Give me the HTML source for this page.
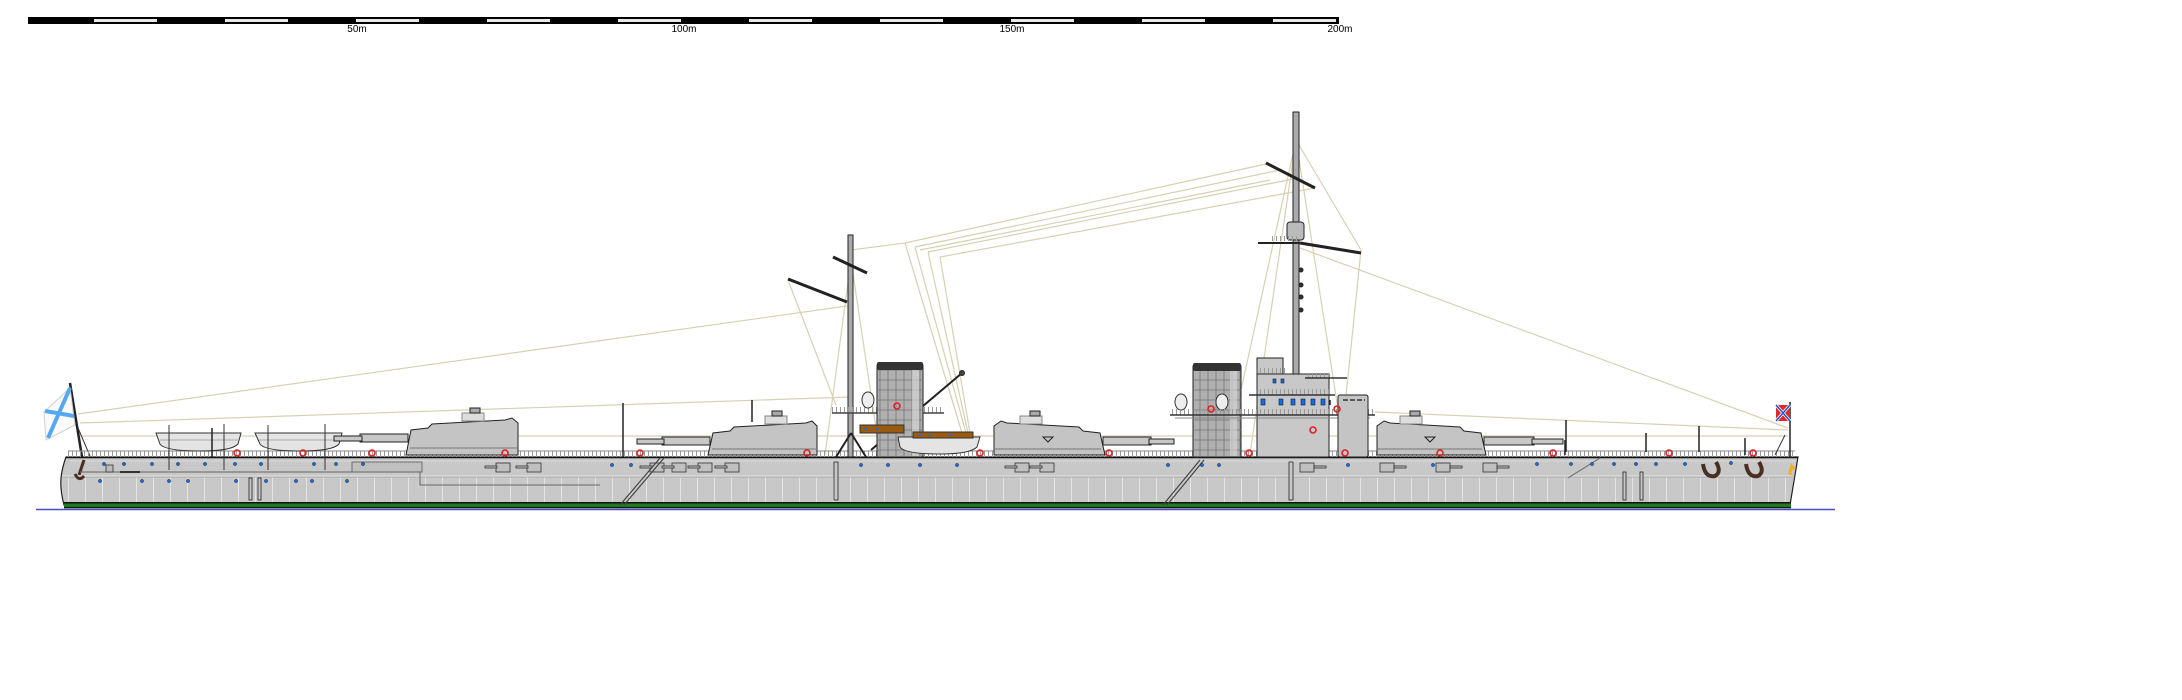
<!DOCTYPE html>
<html><head><meta charset="utf-8"><style>html,body{margin:0;padding:0;background:#fff;}svg{display:block;}</style></head>
<body>
<svg width="2182" height="700" viewBox="0 0 2182 700" xmlns="http://www.w3.org/2000/svg" font-family="Liberation Sans, sans-serif">
<defs>
<pattern id="rail" x="0" y="0" width="4" height="7" patternUnits="userSpaceOnUse"><rect x="0" y="0" width="1" height="7" fill="#9a9a9a"/></pattern>
<pattern id="panel" x="0" y="0" width="17" height="30" patternUnits="userSpaceOnUse"><rect x="0" y="0" width="1" height="30" fill="#e4e4e4"/></pattern>
<pattern id="fgrid" x="0" y="0" width="8" height="10" patternUnits="userSpaceOnUse"><rect width="8" height="10" fill="none" stroke="#777" stroke-width="0.8"/></pattern>
</defs>

<!-- scale bar -->
<rect x="28" y="17" width="1311" height="7" fill="#000"/>
<g fill="#e8e8e8">
<rect x="94" y="19" width="63" height="3"/><rect x="225" y="19" width="63" height="3"/><rect x="356" y="19" width="63" height="3"/><rect x="487" y="19" width="63" height="3"/><rect x="618" y="19" width="63" height="3"/><rect x="749" y="19" width="63" height="3"/><rect x="880" y="19" width="63" height="3"/><rect x="1011" y="19" width="63" height="3"/><rect x="1142" y="19" width="63" height="3"/><rect x="1273" y="19" width="63" height="3"/>
</g>
<g font-size="10" fill="#000" text-anchor="middle">
<text x="357" y="32">50m</text><text x="684" y="32">100m</text><text x="1012" y="32">150m</text><text x="1340" y="32">200m</text>
</g>

<!-- rigging -->
<g stroke="#d8d0b4" stroke-width="1.2" fill="none">
<line x1="78" y1="414" x2="847" y2="306"/>
<line x1="80" y1="423" x2="850" y2="397"/>
<line x1="80" y1="436" x2="1788" y2="436"/>
<line x1="1375" y1="412" x2="1788" y2="430"/>
<line x1="1300" y1="248" x2="1788" y2="428"/>
<line x1="1266" y1="164" x2="905" y2="243"/>
<line x1="1280" y1="170" x2="915" y2="247"/>
<line x1="1298" y1="178" x2="928" y2="252"/>
<line x1="1315" y1="188" x2="940" y2="257"/>
<line x1="1270" y1="180" x2="920" y2="250"/>
<line x1="905" y1="243" x2="962" y2="433"/>
<line x1="915" y1="247" x2="966" y2="433"/>
<line x1="928" y1="252" x2="968" y2="433"/>
<line x1="940" y1="257" x2="970" y2="433"/>
<line x1="851" y1="250" x2="905" y2="243"/>
<line x1="788" y1="280" x2="836" y2="405"/>
<line x1="851" y1="260" x2="825" y2="455"/>
<line x1="851" y1="260" x2="880" y2="455"/>
<line x1="1296" y1="140" x2="1250" y2="454"/>
<line x1="1296" y1="140" x2="1345" y2="454"/>
<line x1="1296" y1="140" x2="1361" y2="250"/>
<line x1="1361" y1="250" x2="1340" y2="454"/>
<line x1="1296" y1="140" x2="1230" y2="440"/>
</g>

<!-- waterline -->
<line x1="36" y1="509.5" x2="1835" y2="509.5" stroke="#4a4ac8" stroke-width="1.5"/>

<!-- hull -->
<path d="M66,457 L1798,457 L1790,505 L64,505 Q60,490 61,478 Q62,468 66,457 Z" fill="#c8c8c8" stroke="#222" stroke-width="1.2"/>
<rect x="64" y="477" width="1726" height="26" fill="url(#panel)"/>
<line x1="62" y1="477" x2="1793" y2="477" stroke="#a9a9a9" stroke-width="1"/>
<line x1="62" y1="476" x2="1793" y2="476" stroke="#e6e6e6" stroke-width="1"/>
<rect x="64" y="502" width="1727" height="1.5" fill="#111"/>
<rect x="64" y="503.5" width="1727" height="3.5" fill="#1f7a1f"/>
<rect x="64" y="507" width="1727" height="1.3" fill="#111"/>
<!-- deck line -->
<line x1="66" y1="457.5" x2="1798" y2="457.5" stroke="#111" stroke-width="1.5"/>
<line x1="70" y1="461" x2="1796" y2="461" stroke="#dadada" stroke-width="1"/>

<!-- stern flag -->
<line x1="70" y1="383" x2="82" y2="457" stroke="#222" stroke-width="2.5"/>
<polygon points="70,388 44,412 46,440 75,425" fill="#fafafa" stroke="#d0d0d0" stroke-width="1"/>
<line x1="70" y1="388" x2="48" y2="438" stroke="#55a8f0" stroke-width="4"/>
<line x1="45" y1="411" x2="74" y2="416" stroke="#55a8f0" stroke-width="4"/>
<line x1="78" y1="428" x2="90" y2="456" stroke="#333" stroke-width="1"/>
<!-- stern anchor -->
<path d="M84,460 L79,475 M75,474 Q79,482 84,476" stroke="#4a2e22" stroke-width="3" fill="none"/>

<!-- railing -->
<rect x="68" y="451" width="1727" height="6" fill="url(#rail)"/>
<line x1="68" y1="451" x2="1795" y2="451" stroke="#888" stroke-width="1"/>

<!-- stern boats -->
<g stroke="#333" stroke-width="1">
<path d="M156,433 L241,433 L238,444 Q232,451 200,451 Q165,451 160,444 Z" fill="#e4e4e4"/>
<path d="M255,433 L342,433 L339,444 Q333,451 300,451 Q265,451 260,444 Z" fill="#e4e4e4"/>
<line x1="160" y1="440" x2="238" y2="440" stroke="#aaa"/><line x1="259" y1="440" x2="339" y2="440" stroke="#aaa"/>
<line x1="169" y1="425" x2="169" y2="470"/><line x1="224" y1="424" x2="224" y2="470"/>
<line x1="268" y1="425" x2="268" y2="470"/><line x1="325" y1="424" x2="325" y2="470"/>
</g>

<!-- stern deckhouse shapes -->
<rect x="352" y="462" width="70" height="10" fill="#c0c0c0" stroke="#555" stroke-width="0.8"/>
<path d="M80,472 L420,472 L420,485 L600,485" stroke="#666" stroke-width="1" fill="none"/>
<rect x="106" y="465" width="7" height="7" fill="#bbb" stroke="#333" stroke-width="0.8"/>
<rect x="120" y="471" width="20" height="2" fill="#333"/>

<!-- turret 1 (left facing) -->
<g stroke="#222" stroke-width="1">
<rect x="360" y="434" width="48" height="8" fill="#c8c8c8"/><rect x="334" y="436" width="28" height="5" fill="#c8c8c8"/>
<polygon points="406,455 411,430 428,428 432,424 505,420 512,418 518,423 518,455" fill="#c4c4c4"/>
<line x1="410" y1="448" x2="518" y2="448" stroke="#777"/>
<rect x="462" y="413" width="22" height="8" fill="#ddd" stroke="#888"/>
<rect x="470" y="408" width="10" height="5" fill="#aaa"/>
</g>
<!-- turret 2 -->
<g stroke="#222" stroke-width="1">
<rect x="662" y="437" width="48" height="8" fill="#c8c8c8"/><rect x="637" y="439" width="27" height="5" fill="#c8c8c8"/>
<polygon points="708,455 713,433 730,431 734,427 806,423 812,421 817,426 817,455" fill="#c4c4c4"/>
<line x1="712" y1="449" x2="817" y2="449" stroke="#777"/>
<rect x="765" y="416" width="22" height="8" fill="#ddd" stroke="#888"/>
<rect x="772" y="411" width="10" height="5" fill="#aaa"/>
</g>
<!-- turret 3 (right facing) -->
<g stroke="#222" stroke-width="1">
<rect x="1103" y="437" width="48" height="8" fill="#c8c8c8"/><rect x="1149" y="439" width="25" height="5" fill="#c8c8c8"/>
<polygon points="1105,455 1100,433 1083,431 1079,427 1007,423 1001,421 994,426 994,455" fill="#c4c4c4"/>
<line x1="994" y1="449" x2="1101" y2="449" stroke="#777"/>
<rect x="1020" y="416" width="22" height="8" fill="#ddd" stroke="#888"/>
<rect x="1030" y="411" width="10" height="5" fill="#aaa"/>
<path d="M1043,437 L1053,437 L1048,442 Z" fill="none"/>
</g>
<!-- turret 4 -->
<g stroke="#222" stroke-width="1">
<rect x="1484" y="437" width="50" height="8" fill="#c8c8c8"/><rect x="1532" y="439" width="31" height="5" fill="#c8c8c8"/>
<polygon points="1486,455 1481,433 1464,431 1460,427 1390,423 1384,421 1377,426 1377,455" fill="#c4c4c4"/>
<line x1="1377" y1="449" x2="1482" y2="449" stroke="#777"/>
<rect x="1400" y="416" width="22" height="8" fill="#ddd" stroke="#888"/>
<rect x="1410" y="411" width="10" height="5" fill="#aaa"/>
<path d="M1425,437 L1435,437 L1430,442 Z" fill="none"/>
</g>

<!-- mast 1 -->
<g stroke="#222">
<rect x="848" y="235" width="5" height="222" fill="#aaa" stroke-width="1"/>
<line x1="788" y1="279" x2="847" y2="302" stroke-width="3"/>
<line x1="833" y1="257" x2="867" y2="273" stroke-width="3"/>
<line x1="851" y1="433" x2="836" y2="457" stroke-width="2"/>
<line x1="851" y1="433" x2="866" y2="457" stroke-width="2"/>
<line x1="871" y1="450" x2="962" y2="373" stroke-width="2"/>
<circle cx="962" cy="373" r="2.5" fill="#444"/>
</g>
<!-- mast 1 platform -->
<rect x="832" y="407" width="112" height="6" fill="url(#rail)"/>
<line x1="832" y1="413" x2="944" y2="413" stroke="#444" stroke-width="1.5"/>
<!-- funnel 1 -->
<rect x="877" y="365" width="46" height="92" fill="#b0b0b0" stroke="#222"/>
<rect x="877" y="365" width="46" height="92" fill="url(#fgrid)"/>
<rect x="912" y="366" width="7" height="90" fill="#d4d4d4" opacity="0.7"/>
<rect x="877" y="362" width="46" height="8" fill="#333" rx="2"/>
<ellipse cx="868" cy="400" rx="6" ry="8" fill="#eee" stroke="#333"/>
<!-- amidships boats -->
<rect x="860" y="425" width="44" height="8" fill="#9a5a10" stroke="#333"/>
<path d="M898,437 L980,437 L977,447 Q970,454 940,454 Q905,454 900,447 Z" fill="#e4e4e4" stroke="#333"/>
<rect x="913" y="432" width="60" height="6" fill="#9a5a10" stroke="#333"/>
<g fill="#1a6ae0"><circle cx="866" cy="429" r="1.3"/><circle cx="877" cy="429" r="1.3"/><circle cx="920" cy="435" r="1.3"/><circle cx="930" cy="435" r="1.3"/><circle cx="950" cy="435" r="1.3"/></g>

<!-- mast 2 -->
<g stroke="#222">
<rect x="1293" y="112" width="6" height="345" fill="#aaa" stroke-width="1"/>
<line x1="1266" y1="163" x2="1315" y2="188" stroke-width="3"/>
<line x1="1258" y1="243" x2="1300" y2="243" stroke-width="2"/>
<line x1="1300" y1="243" x2="1361" y2="253" stroke-width="3"/>
<rect x="1287" y="222" width="17" height="18" fill="#bbb" rx="3"/>
<rect x="1272" y="236" width="27" height="5" fill="url(#rail)" stroke="none"/>
<circle cx="1301" cy="270" r="2" fill="#333"/><circle cx="1301" cy="285" r="2" fill="#333"/><circle cx="1301" cy="297" r="2" fill="#333"/><circle cx="1301" cy="310" r="2" fill="#333"/>
</g>
<!-- funnel 2 -->
<rect x="1193" y="366" width="48" height="91" fill="#b0b0b0" stroke="#222"/>
<rect x="1193" y="366" width="48" height="91" fill="url(#fgrid)"/>
<rect x="1230" y="367" width="7" height="89" fill="#d4d4d4" opacity="0.7"/>
<rect x="1193" y="363" width="48" height="8" fill="#333" rx="2"/>
<ellipse cx="1181" cy="402" rx="6" ry="8" fill="#eee" stroke="#333"/>
<ellipse cx="1222" cy="402" rx="6" ry="8" fill="#eee" stroke="#333"/>
<!-- bridge -->
<rect x="1257" y="374" width="72" height="83" fill="#c8c8c8" stroke="#222"/>
<rect x="1255" y="389" width="76" height="6" fill="url(#rail)"/>
<line x1="1249" y1="395" x2="1335" y2="395" stroke="#333" stroke-width="1.5"/>
<rect x="1257" y="358" width="26" height="16" fill="#c8c8c8" stroke="#222"/>
<rect x="1255" y="368" width="30" height="5" fill="url(#rail)"/>
<rect x="1305" y="374" width="27" height="4" fill="url(#rail)"/>
<line x1="1305" y1="378" x2="1347" y2="378" stroke="#333" stroke-width="1.5"/>
<g fill="#1a6ae0" stroke="#123" stroke-width="0.6">
<rect x="1261" y="399" width="4" height="6"/><rect x="1279" y="399" width="4" height="6"/><rect x="1291" y="399" width="4" height="6"/><rect x="1301" y="399" width="4" height="6"/><rect x="1311" y="399" width="4" height="6"/><rect x="1321" y="399" width="4" height="6"/>
<rect x="1273" y="379" width="3" height="4"/><rect x="1281" y="379" width="3" height="4"/>
</g>
<!-- platform 2 -->
<rect x="1170" y="409" width="205" height="6" fill="url(#rail)"/>
<line x1="1170" y1="415" x2="1375" y2="415" stroke="#333" stroke-width="1.5"/>
<line x1="1175" y1="418" x2="1370" y2="418" stroke="#888" stroke-width="1"/>
<!-- director tower -->
<rect x="1338" y="395" width="30" height="62" fill="#c4c4c4" stroke="#222" rx="2"/>
<line x1="1343" y1="400" x2="1365" y2="400" stroke="#333" stroke-width="1.5" stroke-dasharray="5,2"/>

<!-- casemate guns -->
<g fill="#c0c0c0" stroke="#333" stroke-width="0.8">
<rect x="496" y="463" width="14" height="9"/><rect x="485" y="466" width="12" height="2"/>
<rect x="527" y="463" width="14" height="9"/><rect x="516" y="466" width="12" height="2"/>
<rect x="650" y="463" width="14" height="9"/><rect x="640" y="466" width="12" height="2"/>
<rect x="672" y="463" width="14" height="9"/><rect x="662" y="466" width="12" height="2"/>
<rect x="698" y="463" width="14" height="9"/><rect x="688" y="466" width="12" height="2"/>
<rect x="725" y="463" width="14" height="9"/><rect x="715" y="466" width="12" height="2"/>
<rect x="1015" y="463" width="14" height="9"/><rect x="1005" y="466" width="12" height="2"/>
<rect x="1040" y="463" width="14" height="9"/><rect x="1030" y="466" width="12" height="2"/>
<rect x="1300" y="463" width="14" height="9"/><rect x="1314" y="466" width="12" height="2"/>
<rect x="1380" y="463" width="14" height="9"/><rect x="1394" y="466" width="12" height="2"/>
<rect x="1436" y="463" width="14" height="9"/><rect x="1450" y="466" width="12" height="2"/>
<rect x="1483" y="463" width="14" height="9"/><rect x="1497" y="466" width="12" height="2"/>
</g>
<!-- diagonal ladders/lines -->
<g stroke="#444" stroke-width="1.2">
<line x1="660" y1="458" x2="620" y2="505"/><line x1="664" y1="458" x2="624" y2="505"/>
<line x1="1200" y1="460" x2="1163" y2="505"/><line x1="1204" y1="460" x2="1167" y2="505"/>
<line x1="1600" y1="458" x2="1568" y2="478" stroke="#777"/>
</g>
<!-- vertical struts on hull -->
<g fill="#c8c8c8" stroke="#222" stroke-width="0.8">
<rect x="249" y="478" width="3" height="22"/><rect x="258" y="478" width="3" height="22"/>
<rect x="834" y="462" width="4" height="38"/>
<rect x="1289" y="462" width="4" height="38"/>
<rect x="1623" y="472" width="3" height="28"/><rect x="1640" y="472" width="3" height="28"/>
</g>
<!-- ventilators / posts on deck -->
<g stroke="#222" stroke-width="1.5">
<line x1="212" y1="428" x2="212" y2="457"/><line x1="623" y1="403" x2="623" y2="457"/><line x1="752" y1="400" x2="752" y2="422"/>
<line x1="1330" y1="400" x2="1330" y2="405"/><line x1="1566" y1="420" x2="1566" y2="452"/><line x1="1699" y1="426" x2="1699" y2="452"/>
<line x1="1646" y1="433" x2="1646" y2="452"/><line x1="1565" y1="440" x2="1565" y2="455"/><line x1="1745" y1="438" x2="1745" y2="455"/>
</g>
<!-- bow anchors -->
<g stroke="#4a2e22" stroke-width="4" fill="none">
<path d="M1703,464 Q1705,478 1715,476 Q1722,472 1716,462"/>
<path d="M1746,464 Q1748,478 1758,476 Q1765,472 1759,462"/>
</g>
<path d="M1791,463 L1795,468 L1791,472 L1793,476 L1788,474" fill="#f0b020"/>
<!-- jack -->
<line x1="1790" y1="402" x2="1790" y2="458" stroke="#222" stroke-width="1.5"/>
<rect x="1776" y="405" width="14" height="16" fill="#e02828"/>
<line x1="1776" y1="405" x2="1790" y2="421" stroke="#fff" stroke-width="3"/><line x1="1790" y1="405" x2="1776" y2="421" stroke="#fff" stroke-width="3"/>
<line x1="1776" y1="405" x2="1790" y2="421" stroke="#2850c8" stroke-width="1.5"/><line x1="1790" y1="405" x2="1776" y2="421" stroke="#2850c8" stroke-width="1.5"/>
<line x1="1785" y1="435" x2="1775" y2="455" stroke="#333" stroke-width="1"/>

<!-- portholes -->
<g fill="#1a6ae0" stroke="#123" stroke-width="0.5">
<circle cx="104" cy="464" r="1.6"/><circle cx="124" cy="464" r="1.6"/><circle cx="152" cy="464" r="1.6"/><circle cx="178" cy="464" r="1.6"/><circle cx="205" cy="464" r="1.6"/><circle cx="235" cy="464" r="1.6"/><circle cx="261" cy="464" r="1.6"/><circle cx="314" cy="464" r="1.6"/><circle cx="336" cy="464" r="1.6"/><circle cx="363" cy="464" r="1.6"/>
<circle cx="100" cy="481" r="1.6"/><circle cx="142" cy="481" r="1.6"/><circle cx="169" cy="481" r="1.6"/><circle cx="188" cy="481" r="1.6"/><circle cx="236" cy="481" r="1.6"/><circle cx="266" cy="481" r="1.6"/><circle cx="296" cy="481" r="1.6"/><circle cx="312" cy="481" r="1.6"/><circle cx="347" cy="481" r="1.6"/>
<circle cx="612" cy="465" r="1.6"/><circle cx="631" cy="465" r="1.6"/><circle cx="861" cy="465" r="1.6"/><circle cx="888" cy="465" r="1.6"/><circle cx="920" cy="465" r="1.6"/><circle cx="957" cy="465" r="1.6"/>
<circle cx="1168" cy="465" r="1.6"/><circle cx="1202" cy="465" r="1.6"/><circle cx="1219" cy="465" r="1.6"/><circle cx="1348" cy="465" r="1.6"/><circle cx="1433" cy="465" r="1.6"/>
<circle cx="1537" cy="464" r="1.6"/><circle cx="1571" cy="464" r="1.6"/><circle cx="1592" cy="464" r="1.6"/><circle cx="1614" cy="464" r="1.6"/><circle cx="1636" cy="464" r="1.6"/><circle cx="1656" cy="464" r="1.6"/><circle cx="1685" cy="464" r="1.6"/><circle cx="1731" cy="463" r="1.6"/>
</g>
<!-- life rings -->
<g fill="none" stroke="#e02020" stroke-width="1.6">
<circle cx="237" cy="453" r="3"/><circle cx="303" cy="453" r="3"/><circle cx="372" cy="453" r="3"/><circle cx="505" cy="453" r="3"/><circle cx="640" cy="453" r="3"/><circle cx="807" cy="453" r="3"/><circle cx="980" cy="453" r="3"/><circle cx="897" cy="406" r="3"/>
<circle cx="1109" cy="453" r="3"/><circle cx="1249" cy="453" r="3"/><circle cx="1345" cy="453" r="3"/><circle cx="1440" cy="453" r="3"/><circle cx="1553" cy="453" r="3"/><circle cx="1669" cy="453" r="3"/><circle cx="1753" cy="453" r="3"/>
<circle cx="1211" cy="409" r="3"/><circle cx="1337" cy="409" r="3"/><circle cx="1313" cy="430" r="3"/>
</g>
</svg>
</body></html>
